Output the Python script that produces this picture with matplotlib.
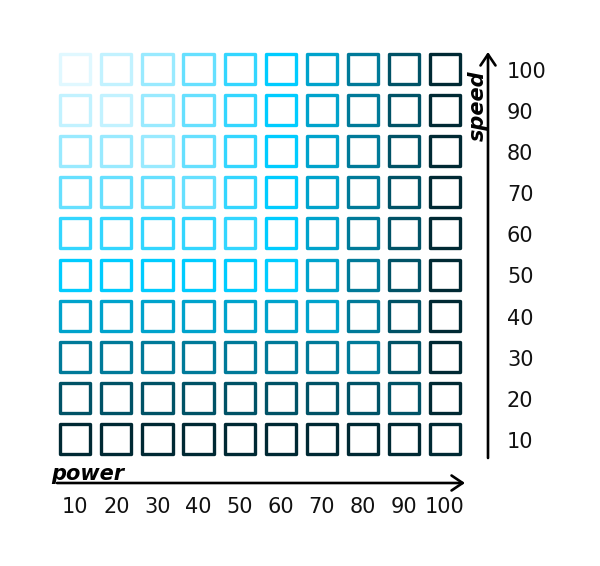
import matplotlib
matplotlib.use("Agg")
import matplotlib.pyplot as plt
import numpy as np

# data
power = [10, 20, 30, 40, 50, 60, 70, 80, 90, 100]
speed = [10, 20, 30, 40, 50, 60, 70, 80, 90, 100]

# shade level per cell, rows from speed 100 down to speed 10
levels = [
    [10, 9, 8, 7, 6, 5, 4, 3, 2, 1],
    [9, 9, 8, 7, 6, 5, 4, 3, 2, 1],
    [8, 8, 8, 7, 6, 5, 4, 3, 2, 1],
    [7, 7, 7, 7, 6, 5, 4, 3, 2, 1],
    [6, 6, 6, 6, 6, 5, 4, 3, 2, 1],
    [5, 5, 5, 5, 5, 5, 4, 3, 2, 1],
    [4, 4, 4, 4, 4, 4, 4, 3, 2, 1],
    [3, 3, 3, 3, 3, 3, 3, 3, 2, 1],
    [2, 2, 2, 2, 2, 2, 2, 2, 2, 1],
    [1, 1, 1, 1, 1, 1, 1, 1, 1, 1],
]

# level 1 (dark) .. level 10 (very light)
palette = ["#002933", "#005266", "#007a99", "#00a3cc", "#00ccff",
           "#33d6ff", "#66e0ff", "#99eaff", "#c2f2ff", "#e0f8ff"]

W, H = 600, 566
fig = plt.figure(figsize=(W / 100, H / 100), dpi=100)
ax = fig.add_axes([0, 0, 1, 1])

# map data to pixels: power 10 -> x 75.3, power 100 -> x 445; speed 100 -> y 69, speed 10 -> y 439 (from top)
sx = (445 - 75.3) / 90
x0 = 10 - 75.3 / sx
sy = (439 - 69) / 90
y0 = 10 - (H - 439) / sy
ax.set_xlim(x0, x0 + W / sx)
ax.set_ylim(y0, y0 + H / sy)
ax.axis("off")

lv = np.array(levels)[::-1]  # row 0 -> speed 10
px, py = np.meshgrid(power, speed)
cols = [palette[v - 1] for v in lv.ravel()]
sc = ax.scatter(px.ravel(), py.ravel(), s=470, marker="s", facecolors="none",
                edgecolors=cols, linewidths=2.4)
sc.set_joinstyle("round")

# axis arrows
arrow = dict(arrowstyle="->,head_length=0.4,head_width=0.27", lw=1.9,
             color="black", mutation_scale=20, shrinkA=0, shrinkB=0)
ax.annotate("", xy=(465 / W, 1 - 483 / H), xytext=(57 / W, 1 - 483 / H),
            xycoords="figure fraction", textcoords="figure fraction", arrowprops=arrow)
ax.annotate("", xy=(488 / W, 1 - 52 / H), xytext=(488 / W, 1 - 458 / H),
            xycoords="figure fraction", textcoords="figure fraction", arrowprops=arrow)

# tick labels
for p in power:
    ax.text(p, 1 - 507 / H, str(p), transform=ax.get_xaxis_transform(),
            ha="center", va="center", fontsize=15, color="#111111")
for s in speed:
    ax.text(507 / W, s - 0.7, str(s), transform=ax.get_yaxis_transform(),
            ha="left", va="center", fontsize=15, color="#111111")

# axis titles
fig.text(51 / W, 1 - 480 / H, "power", fontsize=15, fontweight="heavy",
         fontstyle="italic", ha="left", va="baseline")
fig.text(488 / W, 1 - 70 / H, "speed", fontsize=15, fontweight="heavy",
         fontstyle="italic", rotation=90, ha="right", va="top")

fig.savefig("out.png", dpi=100)
